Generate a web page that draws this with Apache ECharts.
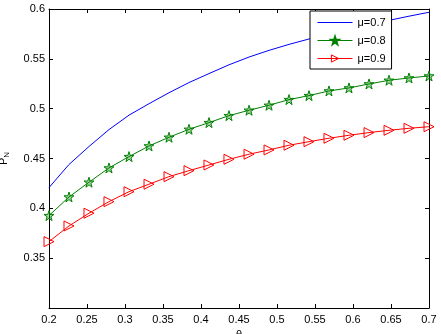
<!DOCTYPE html>
<html>
<head>
<meta charset="utf-8">
<script src="https://cdn.jsdelivr.net/npm/echarts@6/dist/echarts.min.js"></script>
<style>
  html, body { margin: 0; padding: 0; background: #fff; }
  #main { width: 441px; height: 334px; }
</style>
</head>
<body>
<div id="main"></div>
<script>
  // theta values (x)
  var theta = [0.2, 0.2263, 0.2526, 0.2789, 0.3053, 0.3316, 0.3579, 0.3842, 0.4105, 0.4368,
               0.4632, 0.4895, 0.5158, 0.5421, 0.5684, 0.5947, 0.6211, 0.6474, 0.6737, 0.7]
  var mu07 = [0.4208, 0.4440, 0.4620, 0.4790, 0.4935, 0.5050, 0.5160, 0.5262, 0.5352, 0.5440,
              0.5518, 0.5585, 0.5645, 0.5699, 0.5748, 0.5795, 0.5842, 0.5886, 0.5928, 0.5967]
  var mu08 = [0.3927, 0.4114, 0.4262, 0.4405, 0.4519, 0.4626, 0.4713, 0.4793, 0.4860, 0.4930,
              0.4984, 0.5034, 0.5091, 0.5131, 0.5178, 0.5208, 0.5248, 0.5285, 0.5308, 0.5328]
  var mu09 = [0.3666, 0.3823, 0.3951, 0.4067, 0.4167, 0.4242, 0.4318, 0.4378, 0.4435, 0.4492,
              0.4543, 0.4586, 0.4633, 0.4669, 0.4703, 0.4733, 0.4760, 0.4783, 0.4803, 0.4819]
  var legendNames = ['μ=0.7', 'μ=0.8', 'μ=0.9']

  function pairs(ys) {
    return theta.map(function (x, i) { return [x, ys[i]] })
  }

  var font = 'Liberation Sans, Arial, sans-serif'
  var star = 'path://M50,0 L61.8,36.2 L100,36.2 L69.1,58.6 L80.9,95.1 L50,72.7 L19.1,95.1 L30.9,58.6 L0,36.2 L38.2,36.2 Z'
  var triRight = 'path://M0,0 L100,50 L0,100 Z'

  var myChart = echarts.init(document.getElementById('main'))
  myChart.setOption({
    animation: false,
    backgroundColor: '#fff',
    textStyle: { fontFamily: font },
    grid: { left: 49, right: 12, top: 9, bottom: 26, containLabel: false, outerBoundsMode: 'none' },
    legend: {
      orient: 'vertical',
      left: 310, top: 11,
      data: [
        { name: legendNames[0], itemStyle: { opacity: 0 } },
        { name: legendNames[1] },
        { name: legendNames[2], itemStyle: { color: 'rgba(255,255,255,0)', borderColor: '#ff0000', borderWidth: 1 } }
      ],
      backgroundColor: '#fff',
      borderColor: '#000', borderWidth: 1, borderRadius: 0,
      padding: [6, 6, 5, 7],
      itemWidth: 35, itemHeight: 9, itemGap: 7,
      lineStyle: { width: 1 },
      textStyle: { fontSize: 11, color: '#000', fontFamily: font }
    },
    xAxis: [{
      type: 'value', min: 0.2, max: 0.7, interval: 0.05,
      name: 'θ', nameLocation: 'middle', nameGap: 20,
      nameTextStyle: { fontSize: 11, color: '#000' },
      axisLine: { lineStyle: { color: '#000', width: 1 } },
      axisTick: { inside: true, length: 4, lineStyle: { color: '#000' } },
      axisLabel: { fontSize: 11, color: '#000', margin: 6 },
      splitLine: { show: false }
    }, {
      type: 'value', min: 0.2, max: 0.7, interval: 0.05, position: 'top',
      axisLine: { lineStyle: { color: '#000', width: 1 } },
      axisTick: { inside: true, length: 4, lineStyle: { color: '#000' } },
      axisLabel: { show: false },
      splitLine: { show: false }
    }],
    yAxis: [{
      type: 'value', min: 0.3, max: 0.6, interval: 0.05,
      name: '{p|P}{n|N}', nameLocation: 'middle', nameGap: 38,
      nameTextStyle: {
        color: '#000',
        rich: {
          p: { fontSize: 11, color: '#000' },
          n: { fontSize: 8, color: '#000', padding: [7, 0, 0, 0] }
        }
      },
      axisLine: { lineStyle: { color: '#000', width: 1 } },
      axisTick: { inside: true, length: 4, lineStyle: { color: '#000' } },
      axisLabel: {
        fontSize: 11, color: '#000', margin: 4,
        formatter: function (v) { return Math.abs(v - 0.3) < 1e-6 ? '' : String(+v.toFixed(2)) }
      },
      splitLine: { show: false }
    }, {
      type: 'value', min: 0.3, max: 0.6, interval: 0.05, position: 'right',
      axisLine: { lineStyle: { color: '#000', width: 1 } },
      axisTick: { inside: true, length: 4, lineStyle: { color: '#000' } },
      axisLabel: { show: false },
      splitLine: { show: false }
    }],
    series: [{
      name: legendNames[0], type: 'line', data: pairs(mu07),
      symbol: 'none',
      lineStyle: { color: '#0000ff', width: 1 },
      itemStyle: { color: '#0000ff' }
    }, {
      name: legendNames[1], type: 'line', data: pairs(mu08),
      symbol: star, symbolSize: 10,
      lineStyle: { color: '#008000', width: 1 },
      itemStyle: { color: 'rgba(0,128,0,0.35)', borderColor: '#008000', borderWidth: 1 }
    }, {
      name: legendNames[2], type: 'line', data: pairs(mu09),
      symbol: triRight, symbolSize: 10,
      lineStyle: { color: '#ff0000', width: 1 },
      itemStyle: { color: 'rgba(255,255,255,0)', borderColor: '#ff0000', borderWidth: 1 }
    }]
  })
</script>
</body>
</html>
